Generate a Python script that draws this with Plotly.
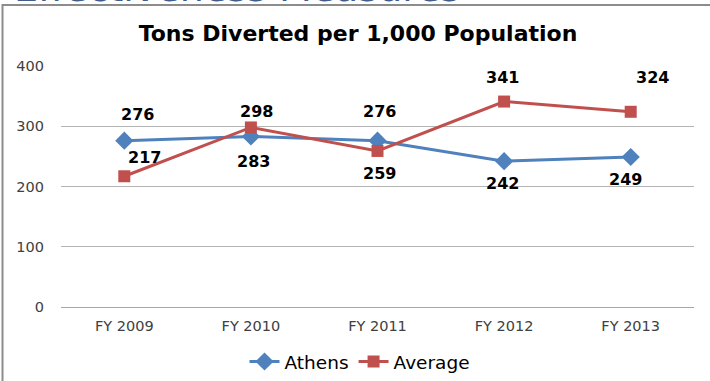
import plotly.graph_objects as go

# ---- data ----
categories = ["FY 2009", "FY 2010", "FY 2011", "FY 2012", "FY 2013"]
athens = [276, 283, 276, 242, 249]
average = [217, 298, 259, 341, 324]
y_ticks = [0, 100, 200, 300, 400]

chart_title = "Tons Diverted per 1,000 Population"
page_heading = "Effectiveness Measures"

# label offsets (pixels) – styling only
athens_label_shift = [(13, 26), (3, -25), (2, 29), (-2, -22), (-5, -23)]
average_label_shift = [(20, 19), (6, 16), (2, -23), (-2, 24), (22, 34)]

BLUE = "#4F81BD"
RED = "#C0504D"
FONT = "DejaVu Sans"

W, H = 710, 381
L, R, T, B = 61, 16, 66, 74
plot_h = H - T - B
plot_w = W - L - R


def py(pix):
    return (H - B - pix) / plot_h


def px(pix):
    return (pix - L) / plot_w


fig = go.Figure()
fig.add_trace(go.Scatter(
    x=categories, y=athens, name="Athens", mode="lines+markers",
    line=dict(color=BLUE, width=3),
    marker=dict(symbol="diamond", size=14, color=BLUE),
))
fig.add_trace(go.Scatter(
    x=categories, y=average, name="Average", mode="lines+markers",
    line=dict(color=RED, width=3),
    marker=dict(symbol="square", size=12, color=RED),
))

annotations = []
for series, shifts in ((athens, athens_label_shift), (average, average_label_shift)):
    for c, v, (dx, dy) in zip(categories, series, shifts):
        annotations.append(dict(
            x=c, y=v, xref="x", yref="y", text=str(v), showarrow=False,
            xshift=dx, yshift=dy,
            font=dict(family=FONT, size=16, color="#000000", weight="bold"),
        ))

annotations.append(dict(
    x=px(12), y=py(12.5), xref="paper", yref="paper", xanchor="left", yanchor="bottom",
    text=page_heading, showarrow=False,
    font=dict(family=FONT, size=38, color="#415C8C"),
))

fig.update_layout(
    template="none",
    width=W, height=H,
    margin=dict(l=L, r=R, t=T, b=B, pad=0, autoexpand=False),
    paper_bgcolor="white", plot_bgcolor="white",
    title=dict(text=chart_title, x=358 / W, xanchor="center", y=1 - 33 / H, yanchor="middle",
               font=dict(family=FONT, size=22, color="#000000", weight="bold")),
    xaxis=dict(
        type="category", range=[-0.5, len(categories) - 0.5],
        showgrid=False, showline=False, zeroline=False, automargin=False,
        tickfont=dict(family=FONT, size=14.5, color="#404040"),
        ticks="", ticklabelstandoff=8, fixedrange=True,
    ),
    yaxis=dict(
        range=[0, 400], tickvals=y_ticks, showgrid=True, gridcolor="#B4B4B4", gridwidth=1,
        showline=False, zeroline=True, zerolinecolor="#A6A6A6", zerolinewidth=1, automargin=False,
        tickfont=dict(family=FONT, size=14.5, color="#404040"),
        ticks="", ticklabelstandoff=16, fixedrange=True,
    ),
    showlegend=True,
    legend=dict(orientation="h", x=px(360), xanchor="center", y=py(362), yanchor="middle",
                font=dict(family=FONT, size=18.5, color="#000000"), traceorder="normal",
                bgcolor="rgba(0,0,0,0)", itemwidth=30),
    annotations=annotations,
    shapes=[dict(type="rect", xref="paper", yref="paper",
                 x0=px(2.5), x1=px(730), y0=py(400), y1=py(5),
                 line=dict(color="#8C8C8C", width=2), fillcolor="rgba(0,0,0,0)", layer="below")],
)

fig.write_html(
    "out.html",
    config={"displayModeBar": False},
    post_script="document.body.style.margin='0';document.body.style.overflow='hidden';",
)
